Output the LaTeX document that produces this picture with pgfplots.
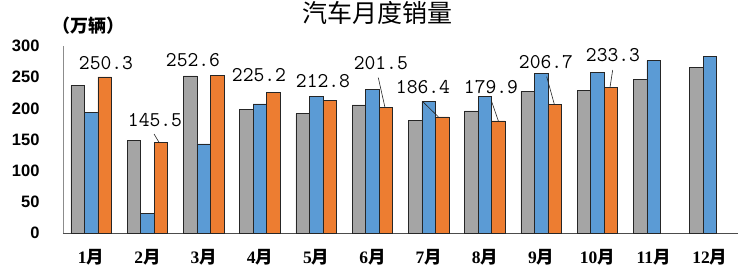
\documentclass[border=0pt]{standalone}
\usepackage{fontspec}
\setmainfont{Liberation Sans}
\newfontfamily\cjk{Noto Sans CJK SC}
\newfontfamily\serifb{Liberation Serif}
\usepackage{pgfplots}
\pgfplotsset{compat=1.18}
\definecolor{cgray}{HTML}{A5A5A5}
\definecolor{cblue}{HTML}{5B9BD5}
\definecolor{corange}{HTML}{ED7D31}
\newcommand\lbl{\ttfamily\fontsize{21}{21}\selectfont\addfontfeature{FakeBold=0.7}}
\begin{document}
\begin{tikzpicture}
\useasboundingbox (-63pt,-41pt) rectangle (689pt,233pt);
\begin{axis}[
  at={(0,0)}, anchor=south west,
  width=675pt, height=187pt, scale only axis,
  xmin=0.5, xmax=12.5, ymin=0, ymax=300,
  ybar=0pt, bar width=13.5pt,
  axis x line=bottom, axis y line=left,
  x axis line style={-, draw=black!70, line width=0.8pt},
  y axis line style={-, draw=black!45, line width=0.8pt},
  xtick={1,...,12},
  xticklabels={{\serifb 1}月,{\serifb 2}月,{\serifb 3}月,{\serifb 4}月,{\serifb 5}月,{\serifb 6}月,{\serifb 7}月,{\serifb 8}月,{\serifb 9}月,{\serifb 10}月,{\serifb 11}月,{\serifb 12}月},
  ytick={0,50,100,150,200,250,300},
  major tick length=0pt,
  /pgf/number format/assume math mode=true,
  yticklabel style={font=\bfseries\fontsize{16.5}{16.5}\selectfont, anchor=east, xshift=-20pt},
  xticklabel style={font=\cjk\bfseries\fontsize{17.5}{17.5}\selectfont, anchor=center, yshift=-24pt},
  clip=false,
]
\addplot[fill=cgray, draw=black!85, line width=0.6pt] coordinates {(1,236.7)(2,148.2)(3,252.0)(4,198.0)(5,191.3)(6,205.6)(7,180.9)(8,195.8)(9,227.1)(10,229.1)(11,245.9)(12,265.6)};
\addplot[fill=cblue, draw=black!85, line width=0.6pt] coordinates {(1,194.1)(2,31.0)(3,143.1)(4,207.0)(5,219.4)(6,230.1)(7,211.2)(8,218.6)(9,256.5)(10,257.3)(11,276.5)(12,283.1)};
\addplot[fill=corange, draw=black!85, line width=0.6pt] coordinates {(1,250.3)(2,145.5)(3,252.6)(4,225.2)(5,212.8)(6,201.5)(7,186.4)(8,179.9)(9,206.7)(10,233.3)};
\begin{scope}[every node/.style={font=\lbl, inner sep=0pt}]
\node at (axis cs:1.264,272.7) {250.3};
\node at (axis cs:2.136,181.3) {145.5};
\node at (axis cs:2.811,277.6) {252.6};
\node at (axis cs:3.984,253.5) {225.2};
\node at (axis cs:5.122,243.9) {212.8};
\node at (axis cs:6.150,272.7) {201.5};
\node at (axis cs:6.900,234.2) {186.4};
\node at (axis cs:8.109,234.2) {179.9};
\node at (axis cs:9.087,274.3) {206.7};
\node at (axis cs:10.278,285.6) {233.3};
\end{scope}
\begin{scope}[black!85, line width=0.6pt]
\draw (axis cs:2.118,158.8) -- (axis cs:2.207,145.5);
\draw (axis cs:6.105,249.2) -- (axis cs:6.224,201.5);
\draw (axis cs:6.895,210.7) -- (axis cs:7.172,186.4);
\draw (axis cs:8.121,210.7) -- (axis cs:8.239,179.9);
\draw (axis cs:9.099,250.8) -- (axis cs:9.234,206.7);
\draw (axis cs:10.272,261.5) -- (axis cs:10.224,233.3);
\end{scope}
\end{axis}
\node[font=\cjk\fontsize{25}{25}\selectfont, anchor=base] at (314pt,211pt) {汽车月度销量};
\node[font=\cjk\bfseries\fontsize{18}{18}\selectfont] at (25pt,207pt) {（万辆）};
\end{tikzpicture}
\end{document}
